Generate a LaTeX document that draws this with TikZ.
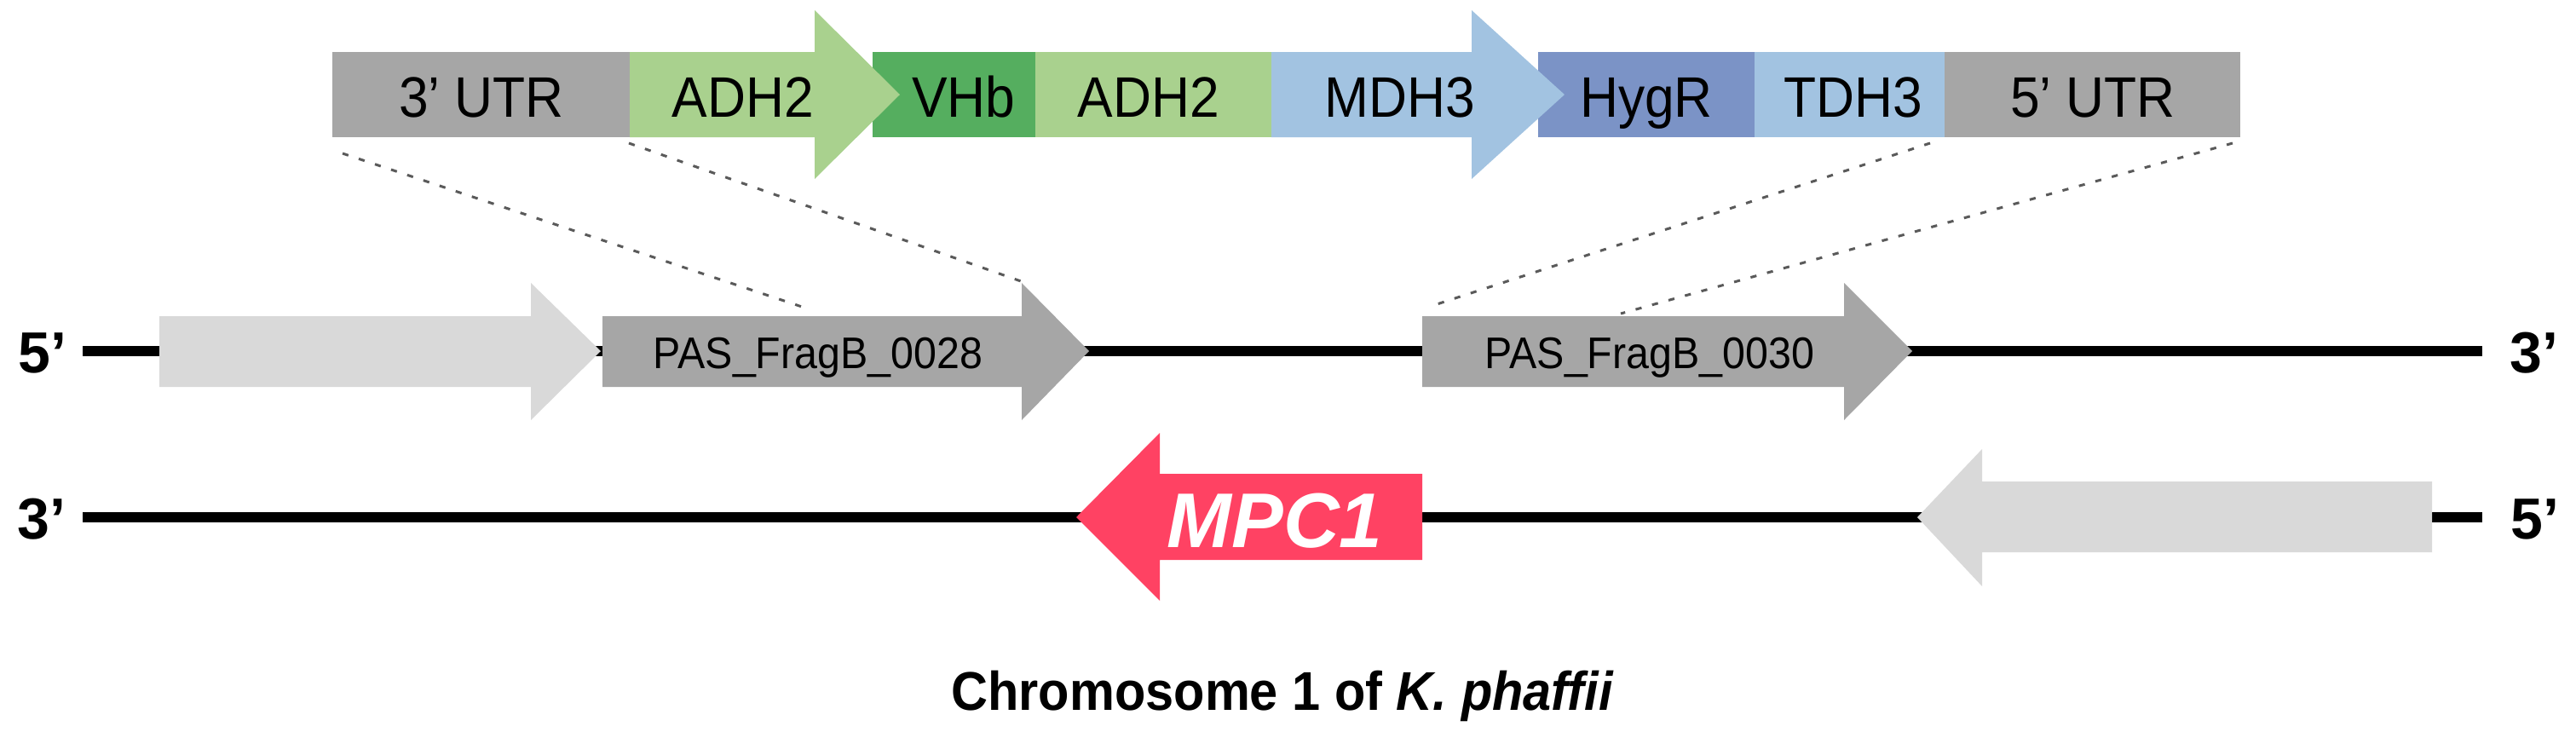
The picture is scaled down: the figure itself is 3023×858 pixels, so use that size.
\documentclass[tikz,border=0pt]{standalone}
\usepackage{fontspec}
\setmainfont{Liberation Sans}
\newfontfamily\cond{Liberation Sans}[FakeStretch=0.93]
\definecolor{gdark}{HTML}{A6A6A6}
\definecolor{glight}{HTML}{D9D9D9}
\definecolor{adhgreen}{HTML}{A9D18E}
\definecolor{vhbgreen}{HTML}{55AE5F}
\definecolor{mdhblue}{HTML}{A2C3E1}
\definecolor{hygblue}{HTML}{7B93C6}
\definecolor{mpcred}{HTML}{FF4263}
\definecolor{dashgrey}{HTML}{5A5A5A}
\tikzset{
  toplbl/.style={anchor=base, inner sep=0pt, font=\cond\fontsize{16.75}{20}\selectfont},
  paslbl/.style={anchor=base, inner sep=0pt, font=\cond\fontsize{13}{15}\selectfont},
  endlbl/.style={anchor=base west, inner sep=0pt, font=\bfseries\fontsize{17}{20}\selectfont},
  mpclbl/.style={anchor=base, inner sep=0pt, text=white, font=\bfseries\itshape\fontsize{22.75}{26}\selectfont},
  caplbl/.style={anchor=base, inner sep=0pt, font=\cond\bfseries\fontsize{16}{19}\selectfont},
  chrom/.style={line width=2.9pt, draw=black},
  conn/.style={draw=dashgrey, line width=0.75pt, dash pattern=on 1.8pt off 3.2pt}
}
\begin{document}
\begin{tikzpicture}[x=0.25pt,y=-0.25pt]
\useasboundingbox (0,0) rectangle (3023,858);

% ---------- top construct ----------
\fill[gdark] (390,61) rectangle (739,161);
\fill[vhbgreen] (1024,61) rectangle (1215,161);
\fill[adhgreen] (739,61) -- (956,61) -- (956,12) -- (1056,111) -- (956,210) -- (956,161) -- (739,161) -- cycle;
\fill[adhgreen] (1215,61) rectangle (1492,161);
\fill[hygblue] (1805,61) rectangle (2059,161);
\fill[mdhblue] (1492,61) -- (1727,61) -- (1727,12) -- (1836,111) -- (1727,210) -- (1727,161) -- (1492,161) -- cycle;
\fill[mdhblue] (2059,61) rectangle (2282,161);
\fill[gdark] (2282,61) rectangle (2629,161);

\node[toplbl] (t-utr3) at (565,137) {3’ UTR};
\node[toplbl] (t-adh2a) at (872,137) {ADH2};
\node[toplbl] (t-vhb) at (1131,137) {VHb};
\node[toplbl] (t-adh2b) at (1348,137) {ADH2};
\node[toplbl] (t-mdh3) at (1643,137) {MDH3};
\node[toplbl] (t-hygr) at (1932,137) {HygR};
\node[toplbl] (t-tdh3) at (2175,137) {TDH3};
\node[toplbl] (t-utr5) at (2456,137) {5’ UTR};

% ---------- chromosome lines ----------
\coordinate (m-l) at (97,412);
\coordinate (m-r) at (2913,412);
\coordinate (b-l) at (97,607);
\coordinate (b-r) at (2913,607);
\draw[chrom] (m-l) -- (m-r);
\draw[chrom] (b-l) -- (b-r);

% ---------- middle-row genes ----------
\fill[glight] (187,371) -- (623,371) -- (623,332) -- (705,412) -- (623,493) -- (623,454) -- (187,454) -- cycle;
\fill[gdark] (707,371) -- (1199,371) -- (1199,332) -- (1278,412) -- (1199,493) -- (1199,454) -- (707,454) -- cycle;
\fill[gdark] (1669,371) -- (2164,371) -- (2164,332) -- (2244,412) -- (2164,493) -- (2164,454) -- (1669,454) -- cycle;
\node[paslbl] (p28) at (960,432) {PAS\_FragB\_0028};
\node[paslbl] (p30) at (1936,432) {PAS\_FragB\_0030};

% ---------- bottom-row genes ----------
\fill[mpcred] (1669,556) -- (1361,556) -- (1361,508) -- (1263,607) -- (1361,705) -- (1361,657) -- (1669,657) -- cycle;
\fill[glight] (2854,565) -- (2326,565) -- (2326,527) -- (2250,607) -- (2326,688) -- (2326,648) -- (2854,648) -- cycle;
\node[mpclbl] (mpc) at (1496,642) {MPC1};

% ---------- end labels ----------
\node[endlbl] (m5) at (21,437) {5’};
\node[endlbl] (m3) at (2945,437) {3’};
\node[endlbl] (b3) at (20,632) {3’};
\node[endlbl] (b5) at (2946,632) {5’};

% ---------- dashed correspondence lines ----------
\coordinate (d1a) at (402,180);  \coordinate (d1b) at (947,362);
\coordinate (d2a) at (738,168);  \coordinate (d2b) at (1198,330);
\coordinate (d3a) at (2265,168); \coordinate (d3b) at (1677,360);
\coordinate (d4a) at (2620,168); \coordinate (d4b) at (1902,368);
\draw[conn] (d1a) -- (d1b);
\draw[conn] (d2a) -- (d2b);
\draw[conn] (d3a) -- (d3b);
\draw[conn] (d4a) -- (d4b);

% ---------- caption ----------
\node[caplbl] (cap) at (1505,833) {Chromosome 1 of \textit{K. phaffii}};
\end{tikzpicture}
\end{document}
